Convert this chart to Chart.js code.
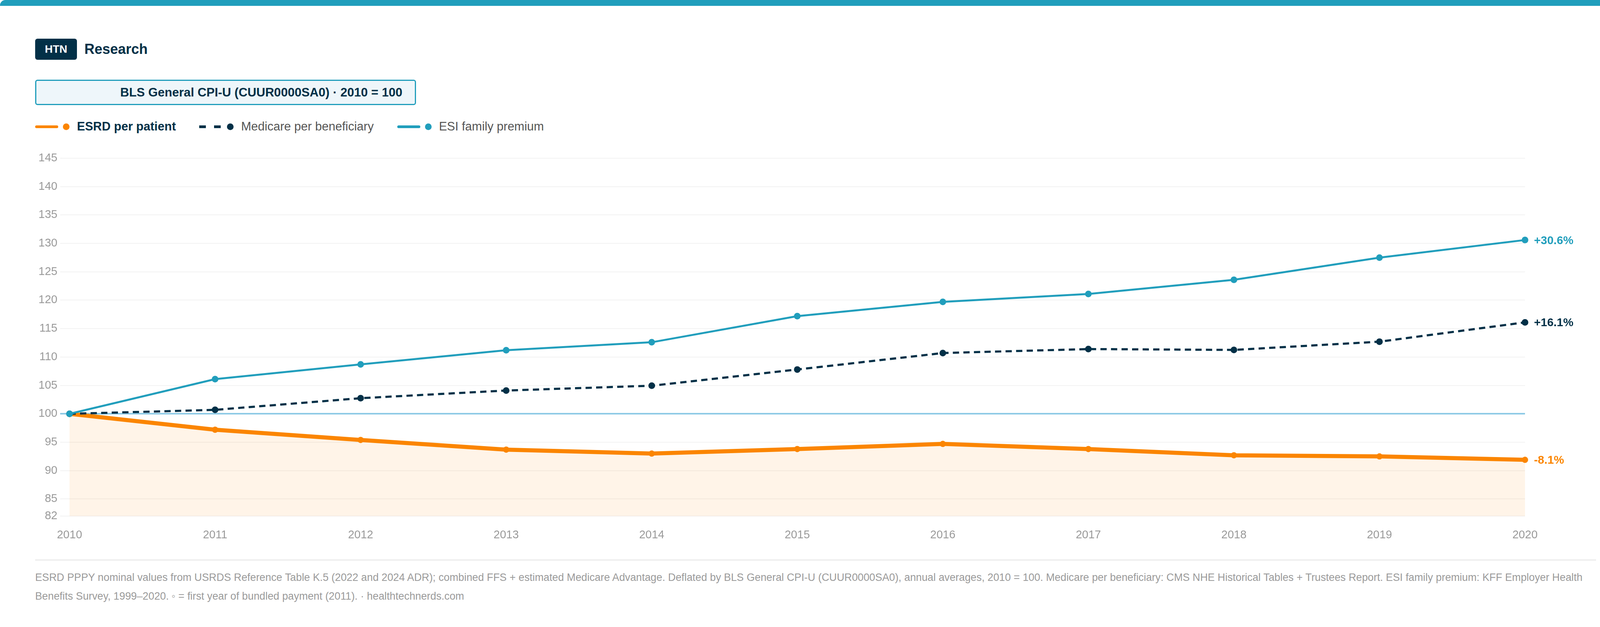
<!DOCTYPE html>
<html>
<head>
<meta charset="utf-8">
<script src="https://cdn.jsdelivr.net/npm/chart.js@4.4.1/dist/chart.umd.min.js"></script>
<style>
    html, body { margin: 0; padding: 0; background: #fff; }
    body { width: 4176px; height: 1605px; position: relative; overflow: hidden; font-family: "Liberation Sans", Arial, Helvetica, sans-serif; }
    .topbar { position: absolute; left: 0; top: 0; width: 4176px; height: 15px; background: #219ebc; border-radius: 14px 14px 0 0; }
    .badge { position: absolute; left: 90px; top: 99px; width: 107px; height: 54px; background: #023047; border-radius: 6px; color: #fff; font-weight: bold; font-size: 28px; line-height: 54px; text-align: center; }
    .brand { position: absolute; left: 216px; top: 99px; height: 54px; line-height: 54px; color: #023047; font-weight: bold; font-size: 36px; }
    .basebox { position: absolute; left: 90px; top: 204px; width: 975px; height: 65px; box-sizing: border-box; border: 3px solid #219ebc; border-radius: 6px; background: #eef6fa; color: #023047; font-weight: bold; font-size: 31.5px; line-height: 59px; text-align: right; padding-right: 32px; }
    .legend { position: absolute; left: 90px; top: 304px; height: 40px; display: flex; align-items: center; font-size: 31px; color: #555; }
    .legend .item { display: flex; align-items: center; margin-right: 60px; }
    .legend .sw { width: 59px; height: 7px; border-radius: 4px; margin-right: 12px; }
    .legend .dash { width: 59px; height: 7px; margin-right: 12px; background: repeating-linear-gradient(90deg, #023047 0 17px, transparent 17px 38px); }
    .legend .dot { width: 17px; height: 17px; border-radius: 50%; margin-right: 19px; }
    .legend .bold { font-weight: bold; color: #023047; }
    .chartwrap { position: absolute; left: 0; top: 360px; width: 4176px; height: 1060px; }
    .sep { position: absolute; left: 90px; top: 1432px; width: 3996px; height: 3px; background: #ebebeb; }
    .foot { position: absolute; left: 90px; top: 1454px; font-size: 26.8px; line-height: 48px; color: #9a9a9a; white-space: nowrap; }
</style>
</head>
<body>
<div class="topbar"></div>
<div class="badge">HTN</div>
<div class="brand">Research</div>
<div class="basebox">BLS General CPI-U (CUUR0000SA0) · 2010 = 100</div>
<div class="legend">
    <div class="item"><div class="sw" style="background:#fb8500"></div><div class="dot" style="background:#fb8500"></div><span class="bold">ESRD per patient</span></div>
    <div class="item"><div class="dash"></div><div class="dot" style="background:#023047"></div><span>Medicare per beneficiary</span></div>
    <div class="item"><div class="sw" style="background:#219ebc"></div><div class="dot" style="background:#219ebc"></div><span>ESI family premium</span></div>
</div>
<div class="chartwrap"><canvas id="realCostChart"></canvas></div>
<div class="sep"></div>
<div class="foot">ESRD PPPY nominal values from USRDS Reference Table K.5 (2022 and 2024 ADR); combined FFS + estimated Medicare Advantage. Deflated by BLS General CPI-U (CUUR0000SA0), annual averages, 2010 = 100. Medicare per beneficiary: CMS NHE Historical Tables + Trustees Report. ESI family premium: KFF Employer Health<br>Benefits Survey, 1999–2020. ◦ = first year of bundled payment (2011). · healthtechnerds.com</div>

<script>
const years = ['2010', '2011', '2012', '2013', '2014', '2015', '2016', '2017', '2018', '2019', '2020'];
const esrdPerPatient = [100, 97.2, 95.4, 93.7, 93.0, 93.8, 94.7, 93.8, 92.7, 92.5, 91.9];
const medicarePerBeneficiary = [100, 100.7, 102.75, 104.1, 104.95, 107.8, 110.7, 111.4, 111.25, 112.7, 116.1];
const esiFamilyPremium = [100, 106.1, 108.7, 111.2, 112.6, 117.2, 119.7, 121.1, 123.6, 127.5, 130.6];
const yTicks = [82, 85, 90, 95, 100, 105, 110, 115, 120, 125, 130, 135, 140, 145];

const FONT = '"Liberation Sans", Arial, Helvetica, sans-serif';

// draws "+30.6%" etc. next to the last point of each line
const endLabels = {
    id: 'endLabels',
    afterDatasetsDraw(chart) {
        const ctx = chart.ctx;
        ctx.save();
        ctx.font = 'bold 29.5px ' + FONT;
        ctx.textBaseline = 'middle';
        ctx.textAlign = 'left';
        chart.data.datasets.forEach((ds, i) => {
            const meta = chart.getDatasetMeta(i);
            const pt = meta.data[meta.data.length - 1];
            const last = ds.data[ds.data.length - 1];
            const change = last - 100;
            const txt = (change >= 0 ? '+' : '') + change.toFixed(1) + '%';
            ctx.fillStyle = ds.borderColor;
            ctx.fillText(txt, pt.x + 23, pt.y + 2);
        });
        ctx.restore();
    }
};

new Chart(document.getElementById('realCostChart'), {
    type: 'line',
    data: {
        labels: years,
        datasets: [{
            label: 'ESRD per patient',
            data: esrdPerPatient,
            borderColor: '#fb8500',
            backgroundColor: 'rgba(251,133,0,0.09)',
            borderWidth: 10.5,
            fill: 'start',
            tension: 0,
            pointRadius: 8,
            pointBackgroundColor: '#fb8500',
            pointBorderWidth: 0,
            order: 2,
            clip: false
        }, {
            label: 'Medicare per beneficiary',
            data: medicarePerBeneficiary,
            borderColor: '#023047',
            borderWidth: 5.5,
            borderDash: [16, 11],
            fill: false,
            tension: 0,
            pointRadius: 8.5,
            pointBackgroundColor: '#023047',
            pointBorderWidth: 0,
            order: 1,
            clip: false
        }, {
            label: 'ESI family premium',
            data: esiFamilyPremium,
            borderColor: '#219ebc',
            borderWidth: 5,
            fill: false,
            tension: 0,
            pointRadius: 8.5,
            pointBackgroundColor: '#219ebc',
            pointBorderWidth: 0,
            order: 0,
            clip: false
        }]
    },
    options: {
        responsive: true,
        maintainAspectRatio: false,
        animation: false,
        layout: { padding: { left: 100, right: 272, top: 45, bottom: 0 } },
        plugins: {
            legend: { display: false },
            tooltip: { enabled: false }
        },
        scales: {
            x: {
                offset: false,
                grid: { display: false, drawTicks: false },
                border: { display: false },
                ticks: { color: '#9a9a9a', font: { size: 29, family: FONT }, padding: 32, maxRotation: 0 },
                afterFit: scale => { scale.height = 99; }
            },
            y: {
                min: 82,
                max: 145,
                afterBuildTicks: scale => { scale.ticks = yTicks.map(v => ({ value: v })); },
                afterFit: scale => { scale.width = 78; },
                border: { display: false },
                grid: {
                    color: c => (c.tick && c.tick.value === 100) ? '#8ecae6' : '#f2f2f2',
                    lineWidth: c => (c.tick && c.tick.value === 100) ? 4 : 2,
                    tickLength: 24
                },
                ticks: { color: '#9a9a9a', font: { size: 29, family: FONT }, padding: 7 }
            }
        }
    },
    plugins: [endLabels]
});
</script>
</body>
</html>
